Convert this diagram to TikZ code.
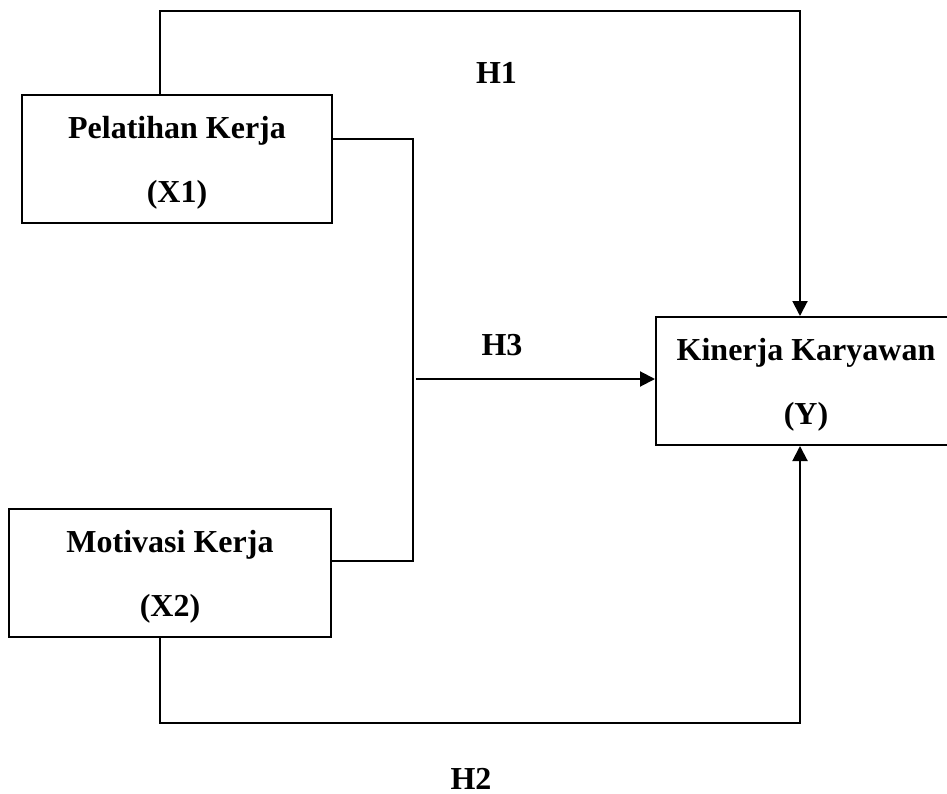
\documentclass[tikz,border=0pt]{standalone}
\usepackage{fontspec}
\setmainfont{Liberation Serif}
\usetikzlibrary{arrows.meta}
\newcommand{\topstrut}{\rule{0pt}{29pt}}
\begin{document}
\begin{tikzpicture}[x=1pt,y=-1pt,
  line width=2pt,
  boxnode/.style={draw, line width=2pt, inner sep=0pt, minimum height=128pt, align=center,
    font=\fontsize{32}{64}\selectfont\bfseries},
  lbl/.style={anchor=base, inner sep=0pt, font=\fontsize{32}{38}\selectfont\bfseries},
  arr/.style={-{Triangle[length=15pt,width=15pt]}},
  conn/.style={line width=2pt}]
\useasboundingbox (0,0) rectangle (947,794);
\node[boxnode, minimum width=310pt] (x1) at (177,159) {\topstrut Pelatihan Kerja\\(X1)};
\node[boxnode, minimum width=322pt] (x2) at (170,573) {\topstrut Motivasi Kerja\\(X2)};
\node[boxnode, minimum width=300pt] (y) at (806,381) {\topstrut Kinerja Karyawan\\(Y)};
\coordinate (c1) at (160,11);
\coordinate (c2) at (800,11);
\coordinate (c3) at (160,723);
\coordinate (c4) at (800,723);
\coordinate (j1) at (413,139);
\coordinate (j2) at (413,561);
\coordinate (h3s) at (416,379);
\draw[conn, arr] (c1 |- x1.north) -- (c1) -- (c2) -- (c2 |- y.north);
\draw[conn, arr] (c3 |- x2.south) -- (c3) -- (c4) -- (c4 |- y.south);
\draw[conn] (x1.east |- j1) -- (j1) -- (j2) -- (x2.east |- j2);
\draw[conn, arr] (h3s) -- (y.west |- h3s);
\node[lbl] (h1) at (496.5,84) {H1};
\node[lbl] (h3) at (502,355) {H3};
\node[lbl] (h2) at (471,789) {H2};
\end{tikzpicture}
\end{document}
